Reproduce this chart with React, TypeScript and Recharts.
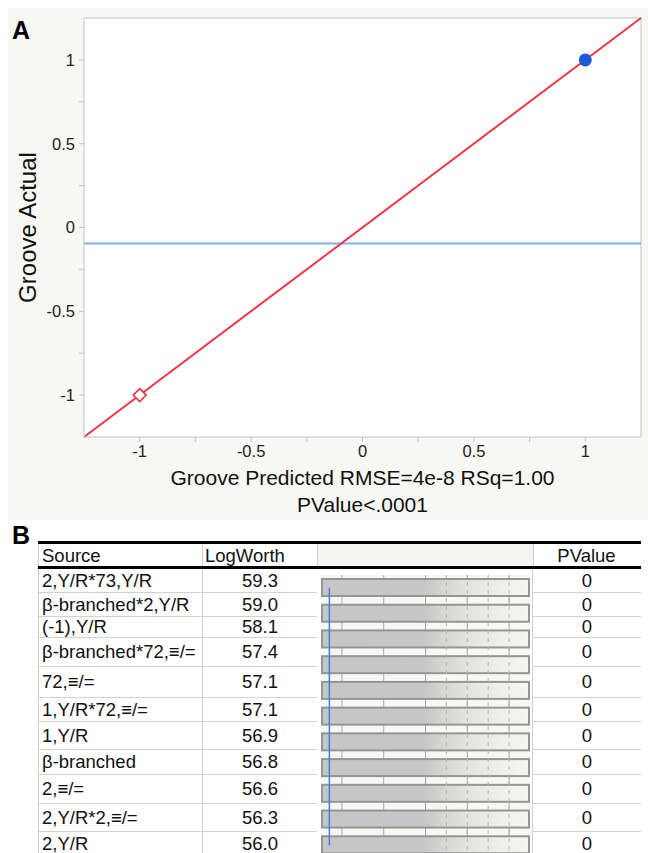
import React from "react";
import {
  ScatterChart,
  Scatter,
  XAxis,
  YAxis,
  CartesianGrid,
  ReferenceLine,
  BarChart,
  Bar,
} from "recharts";

const FONT = '"Liberation Sans", Arial, Helvetica, sans-serif';

// Panel A: actual by predicted
const axisDomain: [number, number] = [-1.25, 1.25];
const majorTicks = [-1, -0.5, 0, 0.5, 1];
const axisTicks = [-1, -0.75, -0.5, -0.25, 0, 0.25, 0.5, 0.75, 1];
const highGroove = [{ predicted: 1, actual: 1 }];
const lowGroove = [{ predicted: -1, actual: -1 }];
const meanActual = -0.095;
const fitLine = [
  { x: -1.25, y: -1.25 },
  { x: 1.25, y: 1.25 },
];
const xTitle = ["Groove Predicted RMSE=4e-8 RSq=1.00", "PValue<.0001"];

// Panel B: effect summary
const sources = [
  "2,Y/R*73,Y/R",
  "β-branched*2,Y/R",
  "(-1),Y/R",
  "β-branched*72,≡/=",
  "72,≡/=",
  "1,Y/R*72,≡/=",
  "1,Y/R",
  "β-branched",
  "2,≡/=",
  "2,Y/R*2,≡/=",
  "2,Y/R",
];
const logWorth = [59.3, 59.0, 58.1, 57.4, 57.1, 57.1, 56.9, 56.8, 56.6, 56.3, 56.0];
const pValues = [0, 0, 0, 0, 0, 0, 0, 0, 0, 0, 0];
const logWorthScale: [number, number] = [0, 50];
const scaleTicks = [5, 10, 15, 20, 25, 30, 35, 40, 45];
const dashedTicks = [30, 35, 40, 45];
const threshold = 2;

// row heights of the table (layout only)
const rowHeights = [24, 24, 21, 29, 31, 24, 28, 25, 29, 28, 24];

const barRows = sources.map((s, i) => ({ source: s, logWorth: logWorth[i] }));

const tickFmt = (v: number) => (majorTicks.includes(v) ? String(v) : "");

const Dot = (props: any) => (
  <circle cx={props.cx} cy={props.cy} r={6.5} fill="#1f58d8" />
);

const Diamond = (props: any) => {
  const { cx, cy } = props;
  const r = 6.5;
  return (
    <polygon
      points={`${cx},${cy - r} ${cx + r},${cy} ${cx},${cy + r} ${cx - r},${cy}`}
      fill="#fff"
      stroke="#e8323f"
      strokeWidth={1.6}
    />
  );
};

const XTitle = (props: any) => {
  const vb = props.viewBox;
  const cx = vb.x + vb.width / 2;
  return (
    <text textAnchor="middle" fontFamily={FONT} fontSize={21} fill="#111">
      <tspan x={cx} y={vb.y + 48}>
        {xTitle[0]}
      </tspan>
      <tspan x={cx} y={vb.y + 75}>
        {xTitle[1]}
      </tspan>
    </text>
  );
};

const LogWorthBar = (props: any) => {
  const { x, y, width, height, background } = props;
  let w = width;
  if (background) w = Math.min(width, background.x + background.width - x);
  return (
    <rect
      x={x + 1}
      y={y}
      width={Math.max(0, w - 2)}
      height={height}
      fill="url(#lwFill)"
      stroke="#959595"
      strokeWidth={2}
    />
  );
};

function PanelA() {
  return (
    <div
      style={{
        position: "absolute",
        left: 8,
        top: 8,
        width: 640,
        height: 512,
        background: "#f7f7f3",
      }}
    >
      <ScatterChart
        width={640}
        height={512}
        margin={{ top: 10, right: 7, left: 0, bottom: 0 }}
      >
        <CartesianGrid
          fill="#ffffff"
          stroke="#c4c4c4"
          horizontalValues={[1.25]}
          verticalValues={[1.25]}
        />
        <XAxis
          type="number"
          dataKey="predicted"
          domain={axisDomain}
          ticks={axisTicks}
          tickFormatter={tickFmt}
          allowDataOverflow
          height={83}
          stroke="#c4c4c4"
          tickSize={5}
          tickMargin={3}
          tick={{ fill: "#222", fontSize: 16.5, fontFamily: FONT }}
          label={<XTitle />}
        />
        <YAxis
          type="number"
          dataKey="actual"
          domain={axisDomain}
          ticks={axisTicks}
          tickFormatter={tickFmt}
          allowDataOverflow
          width={76}
          stroke="#c4c4c4"
          tickSize={5}
          tickMargin={4}
          tick={{ fill: "#222", fontSize: 16.5, fontFamily: FONT }}
          label={{
            value: "Groove Actual",
            angle: -90,
            position: "insideLeft",
            offset: 19,
            style: {
              textAnchor: "middle",
              fontSize: 24,
              fontFamily: FONT,
              fill: "#111",
            },
          }}
        />
        <ReferenceLine y={meanActual} stroke="#7fb0f4" strokeWidth={2} />
        <ReferenceLine
          segment={fitLine}
          stroke="#ee3646"
          strokeWidth={2}
          ifOverflow="visible"
        />
        <Scatter data={lowGroove} shape={Diamond} isAnimationActive={false} />
        <Scatter data={highGroove} shape={Dot} isAnimationActive={false} />
      </ScatterChart>
      <div
        style={{
          position: "absolute",
          left: 4,
          top: 8,
          fontFamily: FONT,
          fontWeight: "bold",
          fontSize: 25,
          color: "#000",
        }}
      >
        A
      </div>
    </div>
  );
}

function PanelB() {
  const top0 = 569;
  const tops: number[] = [];
  let acc = top0;
  rowHeights.forEach((h) => {
    tops.push(acc);
    acc += h;
  });
  const cellText: React.CSSProperties = {
    fontFamily: FONT,
    fontSize: 18.5,
    color: "#111",
    whiteSpace: "nowrap",
  };
  return (
    <>
      <div
        style={{
          position: "absolute",
          left: 12,
          top: 521,
          fontFamily: FONT,
          fontWeight: "bold",
          fontSize: 25,
          color: "#000",
        }}
      >
        B
      </div>
      {/* header */}
      <div
        style={{
          position: "absolute",
          left: 38,
          top: 541,
          width: 603,
          height: 28,
          boxSizing: "border-box",
          borderTop: "3px solid #000",
          borderBottom: "3px solid #000",
        }}
      >
        <div
          style={{
            position: "absolute",
            left: 279,
            top: 0,
            width: 215,
            height: 22,
            background: "#f5f5f0",
            borderLeft: "1px solid #cfcfcf",
            borderRight: "1px solid #cfcfcf",
          }}
        />
        <div style={{ ...cellText, position: "absolute", left: 4, top: 1, lineHeight: "22px" }}>
          Source
        </div>
        <div style={{ ...cellText, position: "absolute", left: 167, top: 1, lineHeight: "22px" }}>
          LogWorth
        </div>
        <div
          style={{
            ...cellText,
            position: "absolute",
            left: 494,
            width: 109,
            top: 1,
            lineHeight: "22px",
            textAlign: "center",
          }}
        >
          PValue
        </div>
        <div style={{ position: "absolute", left: 0, top: 0, width: 1, height: 22, background: "#cfcfcf" }} />
        <div style={{ position: "absolute", left: 164, top: 0, width: 1, height: 22, background: "#cfcfcf" }} />
      </div>
      {/* rows */}
      {sources.map((s, i) => (
        <React.Fragment key={s}>
          <div
            style={{
              position: "absolute",
              left: 38,
              top: tops[i],
              width: 279,
              height: rowHeights[i],
              boxSizing: "border-box",
              borderBottom: "1px solid #d2d2d2",
              borderLeft: "1px solid #cfcfcf",
              display: "flex",
              alignItems: "center",
            }}
          >
            <div
              style={{
                ...cellText,
                width: 164,
                height: "100%",
                boxSizing: "border-box",
                paddingLeft: 3,
                borderRight: "1px solid #cfcfcf",
                display: "flex",
                alignItems: "center",
              }}
            >
              {s}
            </div>
            <div style={{ ...cellText, width: 114, textAlign: "center" }}>
              {logWorth[i].toFixed(1)}
            </div>
          </div>
          <div
            style={{
              ...cellText,
              position: "absolute",
              left: 532,
              top: tops[i],
              width: 109,
              height: rowHeights[i],
              boxSizing: "border-box",
              borderBottom: "1px solid #d2d2d2",
              borderLeft: "1px solid #cfcfcf",
              display: "flex",
              alignItems: "center",
              justifyContent: "center",
            }}
          >
            {pValues[i]}
          </div>
        </React.Fragment>
      ))}
      <div style={{ position: "absolute", left: 317, top: 569, width: 215 }}>
        <BarChart
          layout="vertical"
          width={215}
          height={289}
          data={barRows}
          margin={{ top: 6, right: 2, left: 4, bottom: 0 }}
          barSize={17}
        >
          <defs>
            <linearGradient id="lwFill" x1="0" y1="0" x2="1" y2="0">
              <stop offset="0" stopColor="#c6c6c6" />
              <stop offset="0.5" stopColor="#c7c7c7" />
              <stop offset="0.56" stopColor="#d2d2d0" />
              <stop offset="0.7" stopColor="#e3e3e0" />
              <stop offset="0.85" stopColor="#eeeeea" />
              <stop offset="1" stopColor="#f5f5f1" />
            </linearGradient>
          </defs>
          <CartesianGrid
            fill="#f7f7f3"
            stroke="#a9a9a9"
            horizontal={false}
            verticalValues={scaleTicks}
          />
          <XAxis
            type="number"
            dataKey="logWorth"
            domain={logWorthScale}
            allowDataOverflow
            hide
          />
          <YAxis type="category" dataKey="source" hide />
          <Bar dataKey="logWorth" shape={LogWorthBar} isAnimationActive={false} />
          {dashedTicks.map((t) => (
            <ReferenceLine key={t} x={t} stroke="#b3b3b3" strokeDasharray="4 4" />
          ))}
          <ReferenceLine
            segment={[
              { x: threshold, y: sources[0] },
              { x: threshold, y: sources[sources.length - 1] },
            ]}
            stroke="#3d80f2"
            strokeWidth={1.5}
          />
        </BarChart>
      </div>
    </>
  );
}

export default function App() {
  return (
    <div
      style={{
        position: "absolute",
        left: 0,
        top: 0,
        width: 648,
        height: 853,
        overflow: "hidden",
        background: "#fff",
      }}
    >
      <PanelA />
      <PanelB />
    </div>
  );
}
